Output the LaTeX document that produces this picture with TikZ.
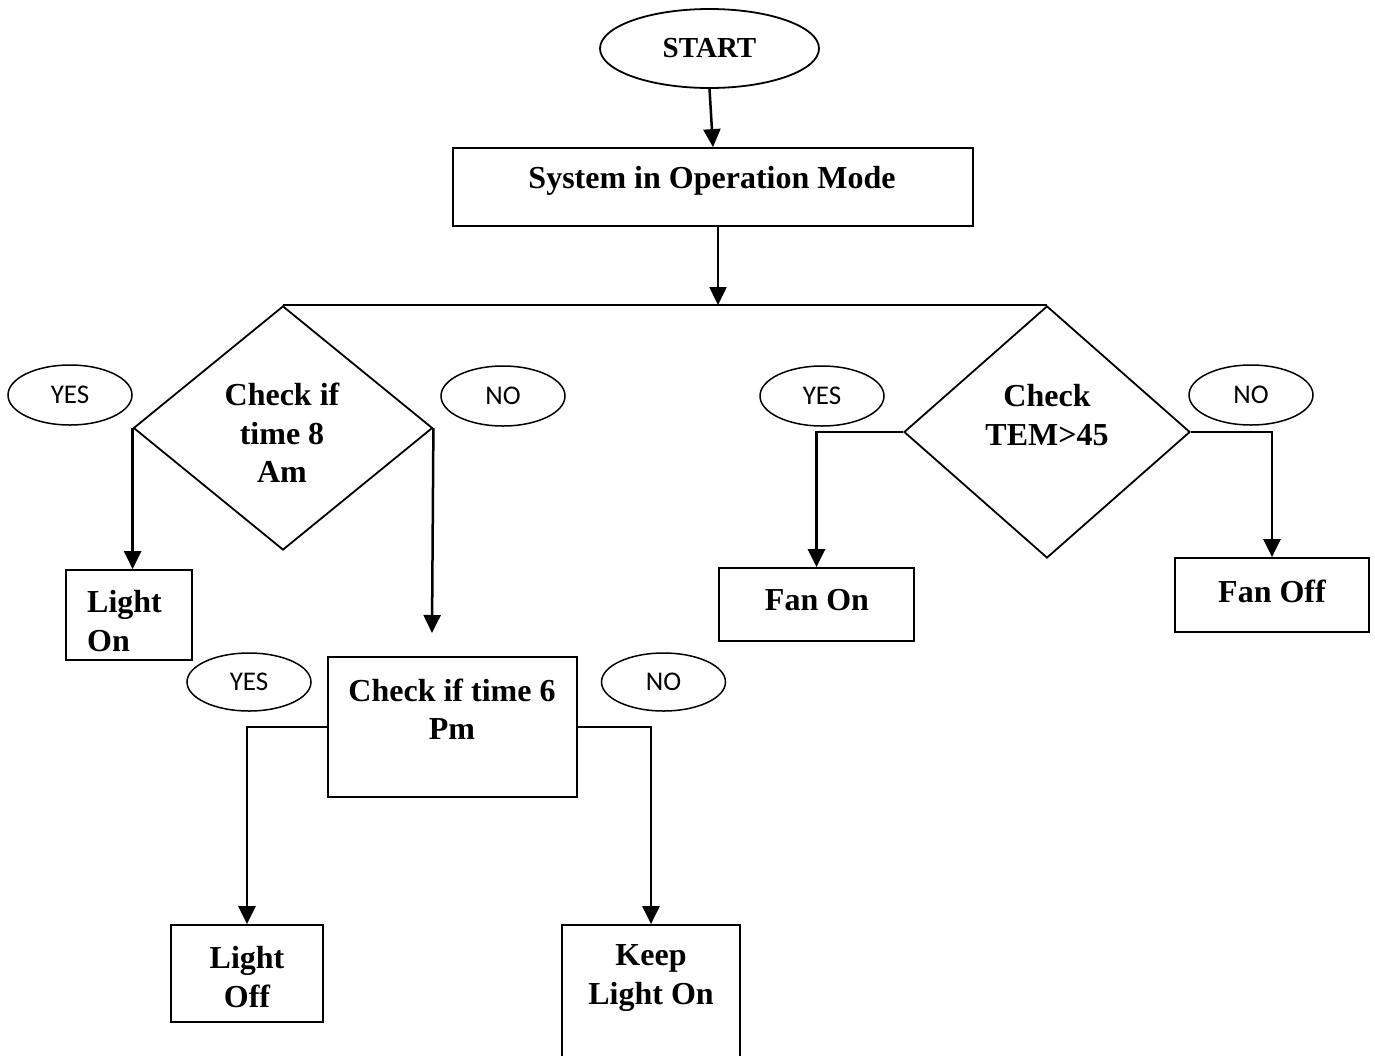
\documentclass[tikz,border=0pt]{standalone}
\usepackage{fontspec}
\setmainfont{Liberation Serif}
\newfontfamily\calfont{Carlito}
\usetikzlibrary{shapes.geometric,arrows.meta}
\begin{document}
\begin{tikzpicture}[x=1pt,y=-1pt,
  shp/.style={draw,line width=1.8pt,inner sep=0pt},
  boxr/.style={shp,rectangle},
  dia/.style={shp,diamond},
  oval/.style={draw,line width=1.5pt,ellipse,inner sep=0pt,minimum width=124pt,minimum height=60pt,font=\calfont\fontsize{27}{32}\selectfont},
  txt/.style={font=\bfseries\fontsize{32}{38.5}\selectfont,align=center,inner sep=0pt},
  arr/.style={line width=2.5pt,-{Triangle[width=17pt,length=18pt]}},
  ln/.style={line width=2.2pt}]
\clip (0,0) rectangle (1375,1055);
\fill[white] (0,0) rectangle (1375,1055);

% start
\node[shp,ellipse,minimum width=219pt,minimum height=79pt,font=\bfseries\fontsize{29}{34}\selectfont] (start) at (709.5,48.5) {START};
% system
\node[boxr,minimum width=520pt,minimum height=78pt] (sys) at (713,187) {};
\node[txt] (systxt) at (712,181) {System in Operation Mode};
\coordinate (j) at (718,305);

% diamonds
\node[dia,minimum width=299pt,minimum height=244pt] (d1) at (283,428) {};
\node[txt] (d1t) at (282,433) {Check if\\time 8\\Am};
\node[dia,minimum width=286pt,minimum height=252pt] (d2) at (1047,432) {};
\node[txt] (d2t) at (1047,415) {Check\\TEM>45};

% boxes
\node[boxr,minimum width=126pt,minimum height=90pt] (lighton) at (129,615) {};
\node[txt,anchor=west,align=left] (lightont) at (87,621) {Light\\On};
\coordinate (e1) at (432,633);
\node[boxr,minimum width=249pt,minimum height=140pt] (chk6) at (452.5,727) {};
\node[txt] (chk6t) at (452,709) {Check if time 6\\Pm};
\node[boxr,minimum width=152pt,minimum height=97pt] (lightoff) at (247,973.5) {};
\node[txt] (lightofft) at (247,977) {Light\\Off};
\node[boxr,minimum width=178pt,minimum height=150pt] (keep) at (651,1000) {};
\node[txt] (keept) at (651,978) {Keep\\Light On};
\node[boxr,minimum width=195pt,minimum height=73pt] (fanon) at (816.5,604.5) {};
\node[txt] (fanont) at (817,600) {Fan On};
\node[boxr,minimum width=194pt,minimum height=74pt] (fanoff) at (1272,595) {};
\node[txt] (fanofft) at (1272,591) {Fan Off};

% yes/no ovals
\node[oval] (yes1) at (70,395) {YES};
\node[oval] (no1) at (503,396) {NO};
\node[oval] (yes2) at (822,396) {YES};
\node[oval] (no2) at (1251,395) {NO};
\node[oval,minimum height=58pt] (yes3) at (249,682) {YES};
\node[oval,minimum height=58pt] (no3) at (663.5,682) {NO};

% connectors
\draw[arr] (start.south) -- (sys.north);
\draw[arr] ([xshift=5pt]sys.south) -- (j);
\draw[ln] (d1.north) -- (d2.north);
\draw[arr] (d1.west) -- (d1.west |- lighton.north);
\draw[arr] (d1.east) -- (e1);
\draw[arr] (chk6.west) -| (lightoff.north);
\draw[arr] (chk6.east) -| (keep.north);
\draw[arr] (d2.west) -| (fanon.north);
\draw[arr] (d2.east) -| (fanoff.north);
\end{tikzpicture}
\end{document}
